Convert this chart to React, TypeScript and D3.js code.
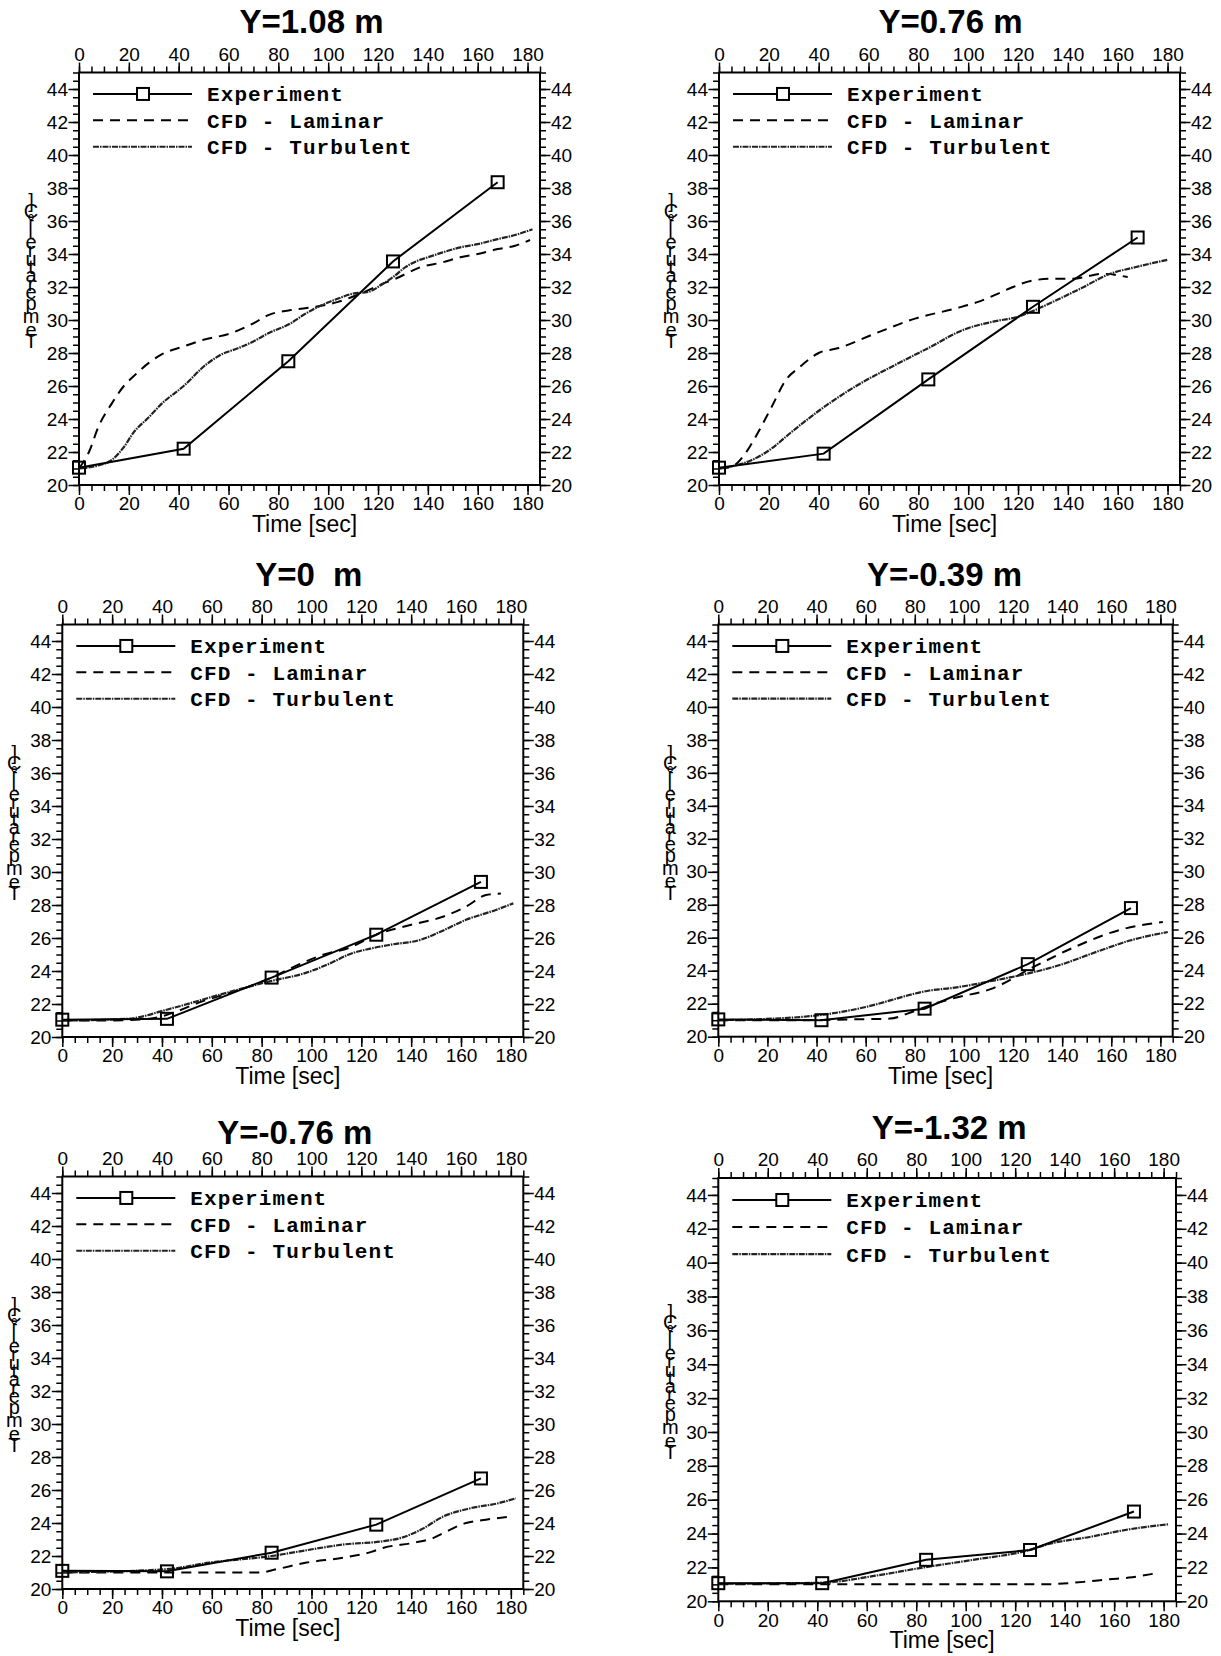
import React, { useEffect, useRef } from 'react';
import * as d3 from 'd3';

// panel titles (height of the measuring station)
const titles = ['Y=1.08 m', 'Y=0.76 m', 'Y=0  m', 'Y=-0.39 m', 'Y=-0.76 m', 'Y=-1.32 m'];

// experiment: same sample times in every panel
const expTime = [0, 42, 84, 126, 168];
const exp108 = [21.05, 22.2, 27.5, 33.55, 38.35];
const exp076 = [21.05, 21.9, 26.4, 30.8, 35.0];
const exp000 = [21.05, 21.1, 23.6, 26.2, 29.4];
const expM039 = [21.05, 21.0, 21.7, 24.4, 27.8];
const expM076 = [21.1, 21.07, 22.2, 23.9, 26.7];
const expM132 = [21.07, 21.07, 22.45, 23.03, 25.3];

// CFD - laminar
const lamT108 = [0, 4, 8, 13, 18, 22, 28, 33, 42, 50, 61, 70, 76, 85, 95, 104, 113, 122, 127, 137, 146, 153, 160, 168, 175, 181];
const lamV108 = [21.0, 22.0, 23.6, 24.9, 26.0, 26.6, 27.4, 27.9, 28.4, 28.8, 29.2, 29.8, 30.3, 30.6, 30.8, 31.1, 31.6, 32.2, 32.5, 33.2, 33.5, 33.8, 34.0, 34.3, 34.5, 34.85];
const lamT076 = [0, 5, 10, 15, 21, 27, 32, 40, 48, 63, 79, 95, 104, 112, 118, 126, 134, 142, 154, 164];
const lamV076 = [21.0, 21.1, 21.8, 23.0, 24.7, 26.4, 27.1, 28.0, 28.3, 29.2, 30.1, 30.7, 31.1, 31.6, 32.0, 32.4, 32.5, 32.5, 32.8, 32.6];
const lamT000 = [0, 20, 35, 45, 55, 70, 84, 95, 105, 115, 126, 140, 153, 162, 170, 176];
const lamV000 = [21.0, 21.0, 21.1, 21.5, 22.1, 22.8, 23.6, 24.4, 25.0, 25.4, 26.2, 26.8, 27.3, 27.9, 28.6, 28.7];
const lamTM039 = [0, 30, 55, 70, 77, 86, 95, 112, 128, 146, 164, 181];
const lamVM039 = [21.0, 21.0, 21.05, 21.1, 21.4, 21.9, 22.3, 22.95, 24.2, 25.5, 26.5, 26.95];
const lamTM076 = [0, 40, 79, 86, 98, 113, 124, 129, 141, 149, 153, 162, 170, 180];
const lamVM076 = [21.0, 21.0, 21.0, 21.2, 21.6, 21.9, 22.25, 22.5, 22.8, 23.1, 23.4, 24.0, 24.2, 24.4];
const lamTM132 = [0, 60, 100, 130, 148, 158, 166, 176];
const lamVM132 = [21.0, 21.0, 21.0, 21.0, 21.15, 21.3, 21.4, 21.63];

// CFD - turbulent
const turbT108 = [0, 8, 13, 18, 22, 28, 33, 42, 51, 57, 64, 70, 76, 85, 90, 96, 104, 110, 116, 122, 126, 131, 136, 140, 146, 153, 160, 168, 175, 182];
const turbV108 = [21.0, 21.2, 21.5, 22.3, 23.2, 24.1, 24.9, 26.0, 27.3, 27.9, 28.3, 28.7, 29.2, 29.8, 30.3, 30.8, 31.3, 31.6, 31.7, 32.2, 32.6, 33.2, 33.6, 33.8, 34.1, 34.4, 34.6, 34.9, 35.15, 35.5];
const turbT076 = [0, 7, 13, 21, 29, 41, 55, 71, 84, 98, 110, 120, 126, 134, 145, 157, 167, 180];
const turbV076 = [21.0, 21.2, 21.5, 22.2, 23.2, 24.6, 26.0, 27.3, 28.3, 29.4, 29.9, 30.2, 30.55, 31.1, 31.9, 32.8, 33.2, 33.65];
const turbT000 = [0, 26, 43, 64, 84, 98, 108, 115, 125, 132, 144, 152, 162, 174, 181];
const turbV000 = [21.0, 21.1, 21.7, 22.6, 23.4, 23.9, 24.5, 25.0, 25.4, 25.6, 25.9, 26.4, 27.1, 27.7, 28.1];
const turbTM039 = [0, 34, 50, 60, 70, 77, 86, 95, 112, 128, 138, 155, 168, 183];
const turbVM039 = [21.0, 21.2, 21.5, 21.8, 22.2, 22.5, 22.8, 22.95, 23.4, 23.9, 24.3, 25.2, 25.85, 26.35];
const turbTM076 = [0, 42, 59, 84, 98, 113, 129, 136, 144, 153, 164, 175, 182];
const turbVM076 = [21.0, 21.2, 21.6, 22.0, 22.35, 22.7, 22.9, 23.1, 23.6, 24.4, 24.9, 25.2, 25.5];
const turbTM132 = [0, 42, 63, 83, 103, 125, 134, 150, 166, 182];
const turbVM132 = [21.04, 21.1, 21.5, 22.0, 22.45, 23.0, 23.4, 23.8, 24.25, 24.55];

const legendLabels = ['Experiment', 'CFD - Laminar', 'CFD - Turbulent'];
const xMajor = [0, 20, 40, 60, 80, 100, 120, 140, 160, 180];
const yMajor = [20, 22, 24, 26, 28, 30, 32, 34, 36, 38, 40, 42, 44];

const series = [
  { exp: exp108, lamT: lamT108, lamV: lamV108, turbT: turbT108, turbV: turbV108 },
  { exp: exp076, lamT: lamT076, lamV: lamV076, turbT: turbT076, turbV: turbV076 },
  { exp: exp000, lamT: lamT000, lamV: lamV000, turbT: turbT000, turbV: turbV000 },
  { exp: expM039, lamT: lamTM039, lamV: lamVM039, turbT: turbTM039, turbV: turbVM039 },
  { exp: expM076, lamT: lamTM076, lamV: lamVM076, turbT: turbTM076, turbV: turbVM076 },
  { exp: expM132, lamT: lamTM132, lamV: lamVM132, turbT: turbTM132, turbV: turbVM132 },
];

// plot boxes in page pixels
const boxes = [
  { left: 79, right: 540, top: 72.5, bottom: 485, titleGap: 39.5, titleDx: 2 },
  { left: 719, right: 1180, top: 72.5, bottom: 485, titleGap: 39.5, titleDx: 1 },
  { left: 62.3, right: 523.3, top: 624.5, bottom: 1037, titleGap: 39, titleDx: 16 },
  { left: 718.3, right: 1172.7, top: 624.5, bottom: 1036.7, titleGap: 39, titleDx: -1 },
  { left: 62.3, right: 523.3, top: 1176.5, bottom: 1589, titleGap: 32.5, titleDx: 2 },
  { left: 718.3, right: 1176, top: 1178, bottom: 1601.3, titleGap: 39, titleDx: 2 },
];

const SANS = "'Liberation Sans', Arial, Helvetica, sans-serif";
const MONO = "'Liberation Mono', 'Courier New', monospace";
const TURB_DASH = '6,1,1.5,1';
const TURB_COLOR = '#222';
const LAM_DASH = '10,7';

function App() {
  const svgRef = useRef(null);

  useEffect(() => {
    const svg = d3.select(svgRef.current);
    svg.selectAll('*').remove();

    series.forEach((s, i) => {
      const b = boxes[i];
      const x = d3.scaleLinear().domain([0, 185]).range([b.left, b.right]);
      const y = d3.scaleLinear().domain([20, 45]).range([b.bottom, b.top]);
      const g = svg.append('g');

      const styleAxis = (sel) => {
        sel.select('.domain').remove();
        sel.selectAll('line').attr('stroke', '#000').attr('stroke-width', 1.5);
        sel.selectAll('text').attr('fill', '#000').style('font-family', SANS).style('font-size', '19px');
      };

      // minor ticks
      const xMinor = d3.range(0, 186, 5);
      const yMinor = d3.range(20, 45.01, 0.5);
      const minors = [
        [d3.axisBottom(x).tickValues(xMinor), `translate(0,${b.bottom})`],
        [d3.axisTop(x).tickValues(xMinor), `translate(0,${b.top})`],
        [d3.axisLeft(y).tickValues(yMinor), `translate(${b.left},0)`],
        [d3.axisRight(y).tickValues(yMinor), `translate(${b.right},0)`],
      ];
      minors.forEach(([ax, tr]) => {
        g.append('g').attr('transform', tr)
          .call(ax.tickSize(6).tickFormat(() => ''))
          .call(styleAxis);
      });

      // major ticks + labels
      g.append('g').attr('transform', `translate(0,${b.bottom})`)
        .call(d3.axisBottom(x).tickValues(xMajor).tickSize(10).tickPadding(2))
        .call(styleAxis);
      g.append('g').attr('transform', `translate(0,${b.top})`)
        .call(d3.axisTop(x).tickValues(xMajor).tickSize(10).tickPadding(2))
        .call(styleAxis);
      g.append('g').attr('transform', `translate(${b.left},0)`)
        .call(d3.axisLeft(y).tickValues(yMajor).tickSize(10.5).tickPadding(0.5))
        .call(styleAxis);
      g.append('g').attr('transform', `translate(${b.right},0)`)
        .call(d3.axisRight(y).tickValues(yMajor).tickSize(10.5).tickPadding(0.5))
        .call(styleAxis);

      // frame
      g.append('rect')
        .attr('x', b.left).attr('y', b.top)
        .attr('width', b.right - b.left).attr('height', b.bottom - b.top)
        .attr('fill', 'none').attr('stroke', '#000').attr('stroke-width', 2);

      // title
      g.append('text')
        .attr('x', (b.left + b.right) / 2 + b.titleDx)
        .attr('y', b.top - b.titleGap)
        .attr('text-anchor', 'middle')
        .style('font-family', SANS).style('font-weight', 'bold').style('font-size', '33px')
        .style('white-space', 'pre')
        .text(titles[i]);

      // x label
      g.append('text')
        .attr('x', (b.left + b.right) / 2 - 5)
        .attr('y', b.bottom + 39)
        .attr('dy', '0.35em')
        .attr('text-anchor', 'middle')
        .style('font-family', SANS).style('font-size', '23px')
        .text('Time [sec]');

      // y label: glyphs stacked upright, bottom to top
      const chars = Array.from('Temperature [°C]');
      const yl = g.append('g');
      const nodes = chars.map(c => yl.append('text')
        .attr('text-anchor', 'middle')
        .attr('dy', '0.35em')
        .style('font-family', SANS).style('font-size', '20px')
        .style('white-space', 'pre')
        .text(c));
      const widths = nodes.map(n => n.node().getComputedTextLength());
      const total = d3.sum(widths);
      const k = 148 / total;
      const midY = (b.top + b.bottom) / 2 - 6;
      let pos = midY + 74;
      nodes.forEach((n, j) => {
        const cy = pos - (widths[j] * k) / 2;
        n.attr('x', b.left - 48).attr('y', cy);
        pos -= widths[j] * k;
      });

      // curves
      const smooth = d3.line().x(d => x(d[0])).y(d => y(d[1])).curve(d3.curveMonotoneX);
      const straight = d3.line().x(d => x(d[0])).y(d => y(d[1]));

      g.append('path')
        .attr('d', smooth(d3.zip(s.lamT, s.lamV)))
        .attr('fill', 'none').attr('stroke', '#000').attr('stroke-width', 2)
        .attr('stroke-dasharray', LAM_DASH);

      g.append('path')
        .attr('d', smooth(d3.zip(s.turbT, s.turbV)))
        .attr('fill', 'none').attr('stroke', TURB_COLOR).attr('stroke-width', 2.2)
        .attr('stroke-dasharray', TURB_DASH);

      g.append('path')
        .attr('d', straight(d3.zip(expTime, s.exp)))
        .attr('fill', 'none').attr('stroke', '#000').attr('stroke-width', 2);

      g.selectAll('rect.mk')
        .data(d3.zip(expTime, s.exp))
        .enter().append('rect')
        .attr('class', 'mk')
        .attr('x', d => x(d[0]) - 6).attr('y', d => y(d[1]) - 6)
        .attr('width', 12).attr('height', 12)
        .attr('fill', 'none').attr('stroke', '#000').attr('stroke-width', 2);

      // legend
      const legY = [43.7, 42.1, 40.5];
      const lx0 = b.left + 14;
      const lx1 = b.left + 113;
      legendLabels.forEach((lab, j) => {
        const ly = y(legY[j]);
        const ln = g.append('line')
          .attr('x1', lx0).attr('x2', lx1).attr('y1', ly).attr('y2', ly)
          .attr('stroke', j === 2 ? TURB_COLOR : '#000').attr('stroke-width', j === 2 ? 2.2 : 2);
        if (j === 1) ln.attr('stroke-dasharray', LAM_DASH);
        if (j === 2) ln.attr('stroke-dasharray', TURB_DASH);
        if (j === 0) {
          g.append('rect')
            .attr('x', b.left + 64 - 6).attr('y', ly - 6)
            .attr('width', 12).attr('height', 12)
            .attr('fill', '#fff').attr('stroke', '#000').attr('stroke-width', 2);
        }
        g.append('text')
          .attr('x', b.left + 128).attr('y', ly)
          .attr('dy', '0.35em')
          .style('font-family', MONO).style('font-weight', 'bold').style('font-size', '21px')
          .style('letter-spacing', '1.1px')
          .style('white-space', 'pre')
          .text(lab);
      });
    });
  }, []);

  return (
    <svg
      ref={svgRef}
      width={1221}
      height={1656}
      style={{ position: 'absolute', left: 0, top: 0, background: '#fff' }}
    />
  );
}

export default App;
